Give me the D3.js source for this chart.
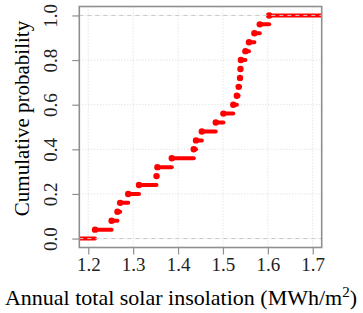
<!DOCTYPE html>
<html><head><meta charset="utf-8">
<script src="https://cdn.jsdelivr.net/npm/d3@7"></script>
<style>html,body{margin:0;padding:0;background:#fff;}svg{display:block;}</style>
</head><body>
<script>
const xTicks = [1.2, 1.3, 1.4, 1.5, 1.6, 1.7];
const yTicks = [0.0, 0.2, 0.4, 0.6, 0.8, 1.0];
const insolation = [1.215, 1.252, 1.265, 1.271, 1.289, 1.313, 1.352, 1.354, 1.386, 1.435,
  1.440, 1.453, 1.484, 1.501, 1.523, 1.531, 1.535, 1.538, 1.539, 1.540,
  1.550, 1.558, 1.570, 1.582, 1.603];
const cumProb = [0.04, 0.08, 0.12, 0.16, 0.20, 0.24, 0.28, 0.32, 0.36, 0.40,
  0.44, 0.48, 0.52, 0.56, 0.60, 0.64, 0.68, 0.72, 0.76, 0.80,
  0.84, 0.88, 0.92, 0.96, 1.00];
const xLabel = "Annual total solar insolation (MWh/m";
const yLabel = "Cumulative probability";

const W = 363, H = 313;
const L = 79.3, R = 321.7, T = 6.5, B = 247.5;
const svg = d3.select("body").append("svg").attr("width", W).attr("height", H);
const x = d3.scaleLinear().domain([1.18, 1.72]).range([L, R]);
const y = d3.scaleLinear().domain([-0.04, 1.04]).range([B, T]);
const font = "Liberation Serif";

svg.append("defs").append("clipPath").attr("id", "clip")
  .append("rect").attr("x", L).attr("y", T).attr("width", R - L).attr("height", B - T);

// grid
const grid = svg.append("g").attr("stroke", "#d9d9d9").attr("stroke-dasharray", "1,2").attr("stroke-width", 1);
grid.selectAll(".gx").data(xTicks).join("line")
  .attr("x1", d => x(d)).attr("x2", d => x(d)).attr("y1", T).attr("y2", B);
grid.selectAll(".gy").data(yTicks).join("line")
  .attr("y1", d => y(d)).attr("y2", d => y(d)).attr("x1", L).attr("x2", R);

// step segments
const segs = [{x0: 1.10, x1: insolation[0], p: 0}];
insolation.forEach((v, i) => segs.push({x0: v, x1: i < insolation.length - 1 ? insolation[i + 1] : 1.80, p: cumProb[i]}));
const plot = svg.append("g").attr("clip-path", "url(#clip)");
plot.selectAll(".seg").data(segs).join("line")
  .attr("x1", d => x(d.x0)).attr("x2", d => x(d.x1))
  .attr("y1", d => y(d.p)).attr("y2", d => y(d.p))
  .attr("stroke", "#ff0000").attr("stroke-width", 4).attr("stroke-linecap", "round");
plot.selectAll(".pt").data(insolation).join("circle")
  .attr("cx", d => x(d)).attr("cy", (d, i) => y(cumProb[i])).attr("r", 3.2)
  .attr("fill", "#ff0000");

// reference lines at 0 and 1
svg.append("g").selectAll("line").data([0, 1]).join("line")
  .attr("x1", L).attr("x2", R).attr("y1", d => y(d)).attr("y2", d => y(d))
  .attr("stroke", "#c8c8c8").attr("stroke-width", 1).attr("stroke-dasharray", "4,4");

// box
svg.append("rect").attr("x", L).attr("y", T).attr("width", R - L).attr("height", B - T)
  .attr("fill", "none").attr("stroke", "#8f8f8f").attr("stroke-width", 1.6);

// axes
const xAxis = svg.append("g").attr("transform", `translate(0,${B})`)
  .call(d3.axisBottom(x).tickValues(xTicks).tickFormat(d3.format(".1f")).tickSizeOuter(0).tickSizeInner(7).tickPadding(3));
xAxis.attr("font-family", font).attr("font-size", 19);
xAxis.select(".domain").remove();
xAxis.selectAll(".tick line").attr("stroke", "#8f8f8f").attr("stroke-width", 1.2);
xAxis.selectAll(".tick text").style("font-family", font).style("font-size", "19px").attr("fill", "#222");

const yAxis = svg.append("g").attr("transform", `translate(${L},0)`)
  .call(d3.axisLeft(y).tickValues(yTicks).tickFormat(d3.format(".1f")).tickSizeOuter(0).tickSizeInner(7));
yAxis.attr("font-family", font).attr("font-size", 19);
yAxis.select(".domain").remove();
yAxis.selectAll(".tick line").attr("stroke", "#8f8f8f").attr("stroke-width", 1.2);
yAxis.selectAll(".tick text")
  .style("font-family", font).style("font-size", "19px").attr("fill", "#222")
  .attr("x", null).attr("dy", null)
  .attr("text-anchor", "middle")
  .attr("transform", "translate(-22,0) rotate(-90)");

// titles
const xt = svg.append("text").attr("x", 181).attr("y", 305).attr("text-anchor", "middle")
  .style("font-family", font).style("font-size", "22px").attr("fill", "#000");
xt.append("tspan").text(xLabel);
xt.append("tspan").attr("dy", -8).style("font-size", "15px").text("2");
xt.append("tspan").attr("dy", 8).text(")");

svg.append("text").attr("transform", `translate(29,118.5) rotate(-90)`).attr("text-anchor", "middle")
  .style("font-family", font).style("font-size", "21px").attr("fill", "#000").text(yLabel);
</script>
</body></html>
